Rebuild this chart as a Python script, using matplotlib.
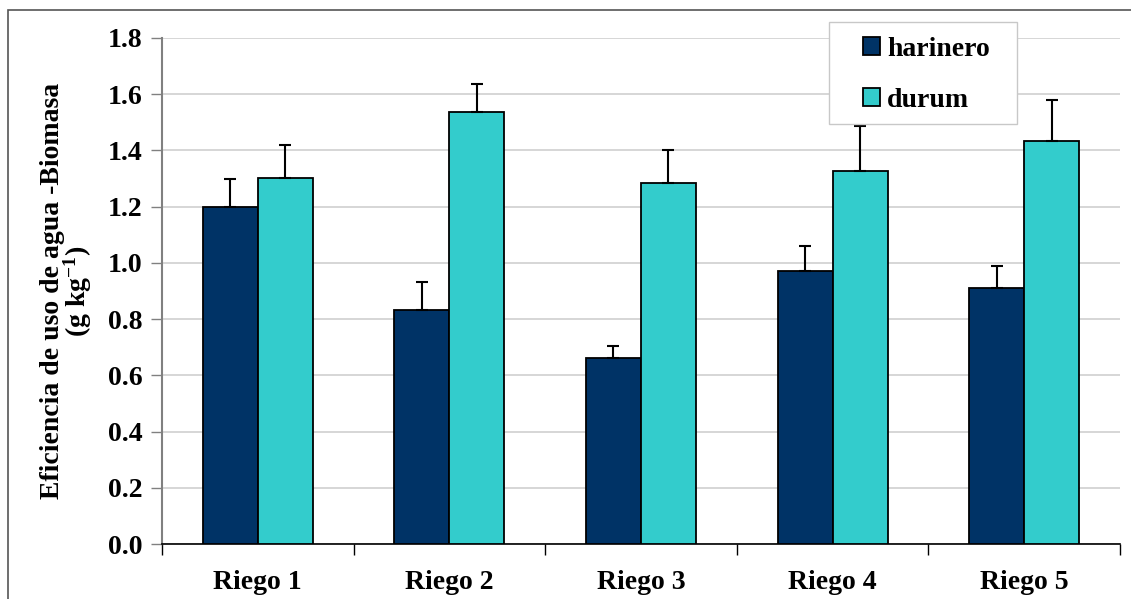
import numpy as np
import matplotlib
matplotlib.use('Agg')
import matplotlib.pyplot as plt
from matplotlib.patches import Rectangle

plt.rcParams['font.family'] = 'Liberation Serif'
plt.rcParams['font.weight'] = 'bold'
plt.rcParams['mathtext.fontset'] = 'custom'
plt.rcParams['mathtext.rm'] = 'Liberation Serif:bold'
plt.rcParams['mathtext.it'] = 'Liberation Serif:bold'
plt.rcParams['mathtext.bf'] = 'Liberation Serif:bold'

categories = ['Riego 1', 'Riego 2', 'Riego 3', 'Riego 4', 'Riego 5']
harinero = [1.20, 0.833, 0.662, 0.972, 0.912]
harinero_err = [0.10, 0.10, 0.042, 0.088, 0.078]
durum = [1.303, 1.538, 1.285, 1.327, 1.435]
durum_err = [0.118, 0.10, 0.118, 0.16, 0.145]

fig = plt.figure(figsize=(11.31, 5.99), dpi=100)
ax = fig.add_axes([0.1432, 0.0918, 0.8471, 0.8448])

# frame around whole chart (only left/top visible in reference)
fig.patches.append(Rectangle((0.007, -0.1), 1.2, 1.083, transform=fig.transFigure,
                             fill=False, edgecolor='#555555', lw=1.2))

x = np.arange(len(categories))
w = 0.287
ax.bar(x - w/2, harinero, w, color='#003366', edgecolor='black', lw=1.3,
       yerr=[np.zeros(5), harinero_err], capsize=4,
       error_kw=dict(elinewidth=1.5, capthick=1.5, ecolor='black'),
       label='harinero', zorder=3)
ax.bar(x + w/2, durum, w, color='#33CCCC', edgecolor='black', lw=1.3,
       yerr=[np.zeros(5), durum_err], capsize=4,
       error_kw=dict(elinewidth=1.5, capthick=1.5, ecolor='black'),
       label='durum', zorder=3)

ax.set_xlim(-0.5, 4.5)
ax.set_ylim(0, 1.8)
ax.set_yticks(np.arange(0, 1.81, 0.2))
ax.set_yticklabels([f'{v:.1f}' for v in np.arange(0, 1.81, 0.2)], fontsize=20, fontweight='bold')
ax.set_xticks(x)
ax.set_xticklabels(categories, fontsize=20, fontweight='bold')
ax.tick_params(axis='x', length=0, pad=19)
ax.set_xticks(np.arange(-0.5, 5, 1), minor=True)
ax.tick_params(axis='x', which='minor', length=8, width=1, direction='out')
ax.tick_params(axis='y', length=8, width=1, color='#808080', pad=6)
ax.yaxis.grid(True, color='#d0d0d0', lw=1.2, zorder=0)
ax.set_axisbelow(True)
for s in ['top', 'right']:
    ax.spines[s].set_visible(False)
ax.spines['left'].set_color('#808080')
ax.spines['left'].set_linewidth(1.5)
ax.spines['bottom'].set_color('black')
ax.spines['bottom'].set_linewidth(1.2)

ax.set_ylabel('Eficiencia de uso de agua -Biomasa\n(g kg$^{-1}$)', fontsize=20,
              fontweight='bold', labelpad=10, linespacing=0.85)

# legend box drawn by hand so the padding matches
ax.add_patch(Rectangle((0.696, 0.830), 0.196, 0.2016, transform=ax.transAxes,
                       facecolor='white', edgecolor='#c8c8c8', lw=1.0,
                       clip_on=False, zorder=9))
leg = ax.legend(loc='upper left', bbox_to_anchor=(0.732, 1.002), fontsize=20,
                frameon=False, handlelength=0.6, handleheight=0.6,
                handletextpad=0.25, labelspacing=0.93, borderpad=0,
                borderaxespad=0)
leg.set_zorder(10)
for t in leg.get_texts():
    t.set_fontweight('bold')

fig.savefig('out.png', dpi=100)
